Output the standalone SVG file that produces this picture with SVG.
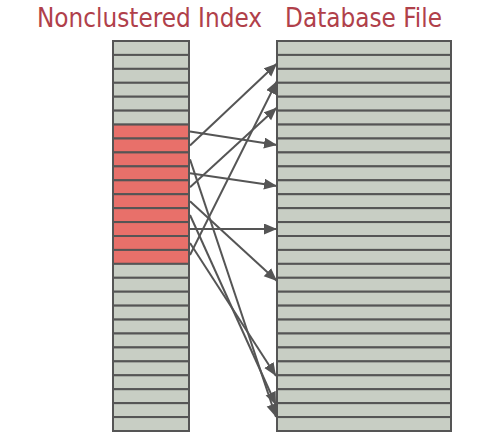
<svg xmlns="http://www.w3.org/2000/svg" width="499" height="446" viewBox="0 0 499 446">
<style>
.title{font-family:"DejaVu Sans Condensed","DejaVu Sans",sans-serif;font-size:26px;fill:#B0404A}
.cell{fill:#C8CEC4;stroke:#555;stroke-width:2}
.hot{fill:#E8706A;stroke:#555;stroke-width:2}
.conn line{stroke:#555;stroke-width:2;marker-end:url(#ah)}
</style>
<defs>
<marker id="ah" markerUnits="userSpaceOnUse" markerWidth="14" markerHeight="12" refX="13" refY="5.5" orient="auto">
<path d="M0,0 L13,5.5 L0,11 Z" fill="#555"/>
</marker>
<rect id="r" x="0" y="0" width="76" height="13.93"/>
<rect id="R" x="0" y="0" width="174" height="13.93"/>
</defs>
<text class="title" x="37" y="26.5" textLength="225" lengthAdjust="spacingAndGlyphs">Nonclustered Index</text>
<text class="title" x="285" y="26.5" textLength="157" lengthAdjust="spacingAndGlyphs">Database File</text>
<g id="index">
<use href="#r" class="cell" x="113" y="41"/>
<use href="#r" class="cell" x="113" y="54.93"/>
<use href="#r" class="cell" x="113" y="68.86"/>
<use href="#r" class="cell" x="113" y="82.79"/>
<use href="#r" class="cell" x="113" y="96.71"/>
<use href="#r" class="cell" x="113" y="110.64"/>
<use href="#r" class="hot" x="113" y="124.57"/>
<use href="#r" class="hot" x="113" y="138.5"/>
<use href="#r" class="hot" x="113" y="152.43"/>
<use href="#r" class="hot" x="113" y="166.36"/>
<use href="#r" class="hot" x="113" y="180.29"/>
<use href="#r" class="hot" x="113" y="194.21"/>
<use href="#r" class="hot" x="113" y="208.14"/>
<use href="#r" class="hot" x="113" y="222.07"/>
<use href="#r" class="hot" x="113" y="236"/>
<use href="#r" class="hot" x="113" y="249.93"/>
<use href="#r" class="cell" x="113" y="263.86"/>
<use href="#r" class="cell" x="113" y="277.79"/>
<use href="#r" class="cell" x="113" y="291.71"/>
<use href="#r" class="cell" x="113" y="305.64"/>
<use href="#r" class="cell" x="113" y="319.57"/>
<use href="#r" class="cell" x="113" y="333.5"/>
<use href="#r" class="cell" x="113" y="347.43"/>
<use href="#r" class="cell" x="113" y="361.36"/>
<use href="#r" class="cell" x="113" y="375.29"/>
<use href="#r" class="cell" x="113" y="389.21"/>
<use href="#r" class="cell" x="113" y="403.14"/>
<use href="#r" class="cell" x="113" y="417.07"/>
</g>
<g id="file">
<use href="#R" class="cell" x="277" y="41"/>
<use href="#R" class="cell" x="277" y="54.93"/>
<use href="#R" class="cell" x="277" y="68.86"/>
<use href="#R" class="cell" x="277" y="82.79"/>
<use href="#R" class="cell" x="277" y="96.71"/>
<use href="#R" class="cell" x="277" y="110.64"/>
<use href="#R" class="cell" x="277" y="124.57"/>
<use href="#R" class="cell" x="277" y="138.5"/>
<use href="#R" class="cell" x="277" y="152.43"/>
<use href="#R" class="cell" x="277" y="166.36"/>
<use href="#R" class="cell" x="277" y="180.29"/>
<use href="#R" class="cell" x="277" y="194.21"/>
<use href="#R" class="cell" x="277" y="208.14"/>
<use href="#R" class="cell" x="277" y="222.07"/>
<use href="#R" class="cell" x="277" y="236"/>
<use href="#R" class="cell" x="277" y="249.93"/>
<use href="#R" class="cell" x="277" y="263.86"/>
<use href="#R" class="cell" x="277" y="277.79"/>
<use href="#R" class="cell" x="277" y="291.71"/>
<use href="#R" class="cell" x="277" y="305.64"/>
<use href="#R" class="cell" x="277" y="319.57"/>
<use href="#R" class="cell" x="277" y="333.5"/>
<use href="#R" class="cell" x="277" y="347.43"/>
<use href="#R" class="cell" x="277" y="361.36"/>
<use href="#R" class="cell" x="277" y="375.29"/>
<use href="#R" class="cell" x="277" y="389.21"/>
<use href="#R" class="cell" x="277" y="403.14"/>
<use href="#R" class="cell" x="277" y="417.07"/>
</g>
<g id="connectors" class="conn">
<line x1="190" y1="131.5" x2="277" y2="145"/>
<line x1="190" y1="145.5" x2="277" y2="63.5"/>
<line x1="190" y1="159.4" x2="276" y2="417"/>
<line x1="190" y1="173.3" x2="277" y2="186"/>
<line x1="190" y1="187.3" x2="277" y2="107.5"/>
<line x1="190" y1="201.2" x2="277" y2="281"/>
<line x1="190" y1="215" x2="276" y2="405"/>
<line x1="190" y1="229" x2="277" y2="229"/>
<line x1="190" y1="243" x2="276" y2="376"/>
<line x1="190" y1="255" x2="277" y2="81"/>
</g>
</svg>
